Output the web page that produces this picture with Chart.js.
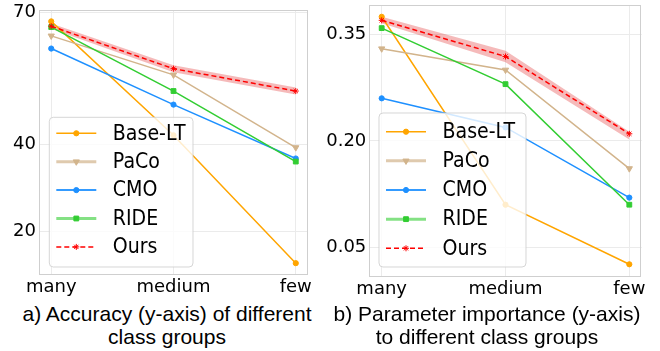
<!DOCTYPE html>
<html><head><meta charset="utf-8">
<script src="https://cdn.jsdelivr.net/npm/chart.js@4"></script>
<style>
body{margin:0;background:#fff;width:660px;height:351px;overflow:hidden;position:relative;}
.w{position:absolute;top:0;}
.cap{position:absolute;font-family:"Liberation Sans",Arial,sans-serif;font-size:21px;line-height:23px;text-align:center;color:#000;white-space:nowrap;}
</style></head><body>
<div class="w" style="left:0"><canvas id="c1" width="320" height="300"></canvas></div>
<div class="w" style="left:312px"><canvas id="c2" width="348" height="300"></canvas></div>
<div class="cap" style="left:7px;width:320px;top:302px">a) Accuracy (y-axis) of different<br>class groups</div>
<div class="cap" style="left:327px;width:320px;top:302px">b) Parameter importance (y-axis)<br>to different class groups</div>
<script>
// ---- data ----
const categories = ['many', 'medium', 'few'];
const seriesNames = ['Base-LT', 'PaCo', 'CMO', 'RIDE', 'Ours'];

// a) accuracy
const accBaseLT = [68.0, 42.0, 12.8];
const accPaCo   = [64.7, 55.8, 39.2];
const accCMO    = [61.8, 49.0, 36.7];
const accRIDE   = [66.7, 52.1, 36.0];
const accOurs   = [66.9, 57.2, 52.1];
const accOursLow  = [66.3, 56.4, 51.3];
const accOursHigh = [67.5, 58.0, 52.9];
const accTicks = [20, 40, 70];

// b) parameter importance
const impBaseLT = [0.375, 0.110, 0.026];
const impPaCo   = [0.330, 0.300, 0.161];
const impCMO    = [0.260, 0.219, 0.120];
const impRIDE   = [0.359, 0.280, 0.110];
const impOurs   = [0.370, 0.319, 0.210];
const impOursLow  = [0.366, 0.311, 0.202];
const impOursHigh = [0.375, 0.327, 0.213];
const impTicks = [0.05, 0.20, 0.35];

// ---- styles ----
const styles = [
  {color:'#FFA500', point:'circle',   r:2.6, rot:0,   dash:[], legW:1.5, legA:1},
  {color:'#D2B48C', point:'triangle', r:3.6, rot:180, dash:[], legW:3,   legA:0.7},
  {color:'#1E90FF', point:'circle',   r:2.6, rot:0,   dash:[], legW:2,   legA:0.9},
  {color:'#32CD32', point:'rect',     r:3.4, rot:0,   dash:[], legW:3,   legA:0.6},
  {color:'#FF0000', point:'star',     r:3.0, rot:0,   dash:[5,3], legW:1.5, legA:1}
];
const FONT = '"DejaVu Sans", sans-serif';

const pts = arr => arr.map((v, i) => ({x: i, y: v}));

const boxLegend = {
  id: 'boxLegend',
  afterDatasetsDraw(chart, args, o) {
    const ctx = chart.ctx, a = chart.chartArea;
    ctx.save();
    // spines
    ctx.strokeStyle = '#cfcfcf'; ctx.lineWidth = 1;
    ctx.strokeRect(Math.round(a.left) + 0.5, Math.round(a.top) + 0.5,
                   Math.round(a.right - a.left) - 1, Math.round(a.bottom - a.top) - 1);
    // legend box
    const r = 4, x = o.x, y = o.y, w = o.w, h = o.h;
    ctx.beginPath();
    ctx.moveTo(x + r, y); ctx.lineTo(x + w - r, y); ctx.arcTo(x + w, y, x + w, y + r, r);
    ctx.lineTo(x + w, y + h - r); ctx.arcTo(x + w, y + h, x + w - r, y + h, r);
    ctx.lineTo(x + r, y + h); ctx.arcTo(x, y + h, x, y + h - r, r);
    ctx.lineTo(x, y + r); ctx.arcTo(x, y, x + r, y, r); ctx.closePath();
    ctx.fillStyle = 'rgba(255,255,255,0.8)'; ctx.fill();
    ctx.strokeStyle = 'rgba(204,204,204,0.8)'; ctx.stroke();
    seriesNames.forEach((name, i) => {
      const s = styles[i], ry = o.row0 + i * o.gap;
      const x0 = x + 7, x1 = x + 47;
      ctx.save();
      ctx.globalAlpha = s.legA;
      ctx.strokeStyle = s.color; ctx.lineWidth = s.legW; ctx.setLineDash(s.dash);
      ctx.beginPath(); ctx.moveTo(x0, ry); ctx.lineTo(x1, ry); ctx.stroke();
      ctx.restore();
      ctx.save();
      ctx.setLineDash([]);
      ctx.fillStyle = s.color; ctx.strokeStyle = s.color; ctx.lineWidth = 1;
      Chart.helpers.drawPoint(ctx, {pointStyle: s.point, radius: s.r, rotation: s.rot, borderWidth: 1}, (x0 + x1) / 2, ry);
      ctx.restore();
      ctx.save();
      ctx.translate(x + 63.5, ry + 1);
      ctx.scale(1, 1.08);
      ctx.font = '19px ' + FONT; ctx.textBaseline = 'middle'; ctx.textAlign = 'left';
      ctx.fillStyle = '#000';
      ctx.fillText(name, 0, 0);
      ctx.restore();
    });
    ctx.restore();
  }
};

function makeChart(id, series, low, high, ticks, fmt, ymin, ymax, yW, xH, padTop, padRight, leg) {
  const datasets = series.map((arr, i) => ({
    label: seriesNames[i],
    data: pts(arr),
    borderColor: styles[i].color,
    backgroundColor: styles[i].color,
    borderWidth: 1.5,
    borderDash: styles[i].dash,
    pointStyle: styles[i].point,
    pointRadius: styles[i].r,
    pointRotation: styles[i].rot,
    pointBorderWidth: 1,
    fill: false,
    tension: 0,
    order: 4 - i
  }));
  datasets.push({label: 'band-high', data: pts(high), borderWidth: 0, pointRadius: 0,
    borderColor: 'rgba(0,0,0,0)', backgroundColor: 'rgba(225,40,40,0.32)', fill: '+1', order: 10});
  datasets.push({label: 'band-low', data: pts(low), borderWidth: 0, pointRadius: 0,
    borderColor: 'rgba(0,0,0,0)', backgroundColor: 'rgba(0,0,0,0)', fill: false, order: 11});

  return new Chart(document.getElementById(id), {
    type: 'line',
    data: {datasets},
    plugins: [boxLegend],
    options: {
      responsive: false, animation: false, devicePixelRatio: 1,
      layout: {padding: {top: padTop, right: padRight, left: 0, bottom: 0}},
      plugins: {legend: {display: false}, tooltip: {enabled: false}, boxLegend: leg},
      scales: {
        x: {
          type: 'linear', min: -0.1, max: 2.1,
          afterBuildTicks: s => { s.ticks = categories.map((c, i) => ({value: i})); },
          afterFit: s => { s.height = xH; s.paddingLeft = 0; s.paddingRight = 0; },
          ticks: {callback: v => categories[v], color: '#000', font: {family: FONT, size: 18}, padding: 2, maxRotation: 0, autoSkip: false},
          grid: {color: '#ebebeb', drawTicks: false},
          border: {display: false}
        },
        y: {
          type: 'linear', min: ymin, max: ymax,
          afterBuildTicks: s => { s.ticks = ticks.map(v => ({value: v})); },
          afterFit: s => { s.width = yW; s.paddingTop = 0; s.paddingBottom = 0; },
          ticks: {callback: fmt, color: '#000', font: {family: FONT, size: 18}, padding: 3},
          grid: {color: '#ebebeb', drawTicks: false},
          border: {display: false}
        }
      }
    }
  });
}

makeChart('c1', [accBaseLT, accPaCo, accCMO, accRIDE, accOurs], accOursLow, accOursHigh,
  accTicks, v => String(v), 10.1, 70.6, 39, 25, 10, 12,
  {x: 49.3, y: 117.3, w: 143.7, h: 149.7, row0: 133.3, gap: 28.4});

makeChart('c2', [impBaseLT, impPaCo, impCMO, impRIDE, impOurs], impOursLow, impOursHigh,
  impTicks, v => v.toFixed(2), 0.0085, 0.3916, 57.3, 23.3, 5, 18.3,
  {x: 67, y: 113, w: 147, h: 154, row0: 131.7, gap: 29.15});
</script>
</body></html>
